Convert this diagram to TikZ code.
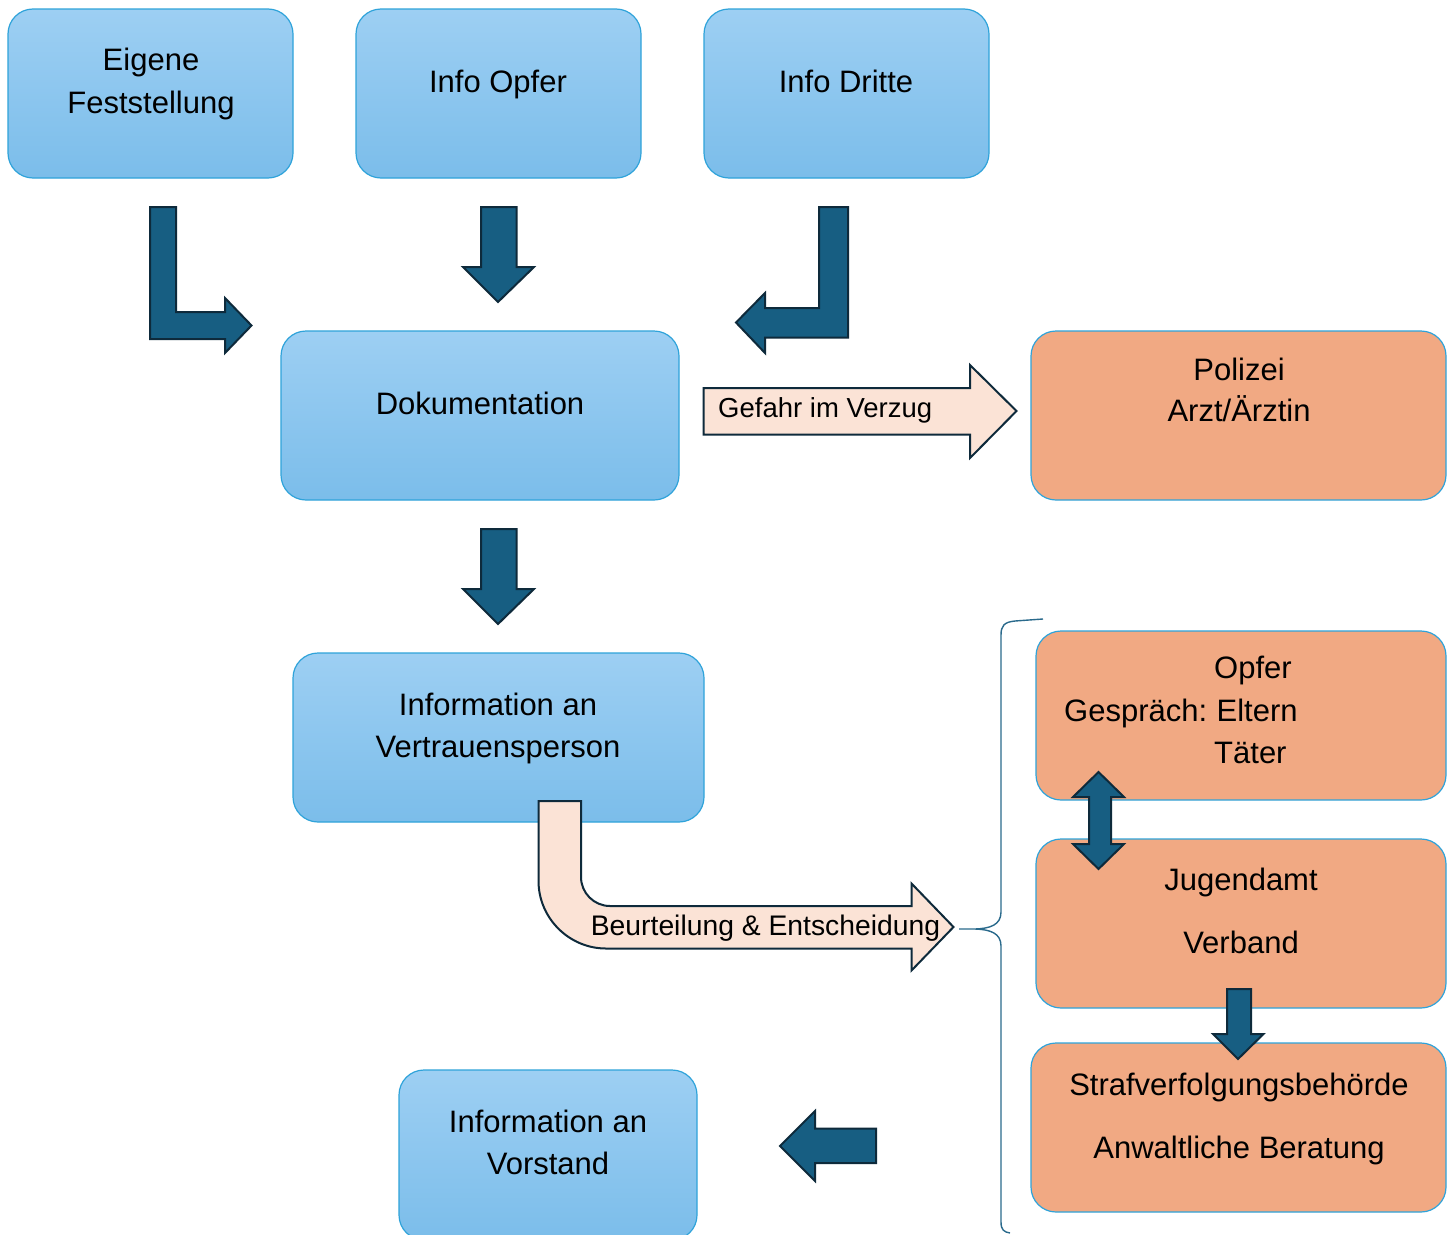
\documentclass[tikz,border=0pt]{standalone}
\usepackage{fontspec}
\setmainfont{Liberation Sans}
\definecolor{blueTop}{HTML}{9DCFF3}
\definecolor{blueBot}{HTML}{7BBDEA}
\definecolor{boxBorder}{HTML}{2FA3DA}
\definecolor{orangeFill}{HTML}{F1A983}
\definecolor{darkFill}{HTML}{175E82}
\definecolor{darkLine}{HTML}{0E2A3B}
\definecolor{peach}{HTML}{FBE3D6}
\definecolor{braceCol}{HTML}{2A6A8C}
\tikzset{
  bluebox/.style={rectangle, rounded corners=25pt, draw=boxBorder, line width=1.2pt,
    top color=blueTop, bottom color=blueBot, inner sep=0pt},
  orangebox/.style={rectangle, rounded corners=25pt, draw=boxBorder, line width=1.2pt,
    fill=orangeFill, inner sep=0pt},
  txt/.style={anchor=base, inner sep=0pt, font=\fontsize{31}{36}\selectfont},
  atxt/.style={anchor=base, inner sep=0pt, font=\fontsize{27.5}{33}\selectfont},
  darrow/.style={fill=darkFill, draw=darkLine, line width=2pt, line join=miter},
  parrow/.style={fill=peach, draw=darkLine, line width=2pt, line join=miter},
}
\begin{document}
\begin{tikzpicture}[x=1pt,y=-1pt]
\clip (0,0) rectangle (1455,1234);
\fill[white] (0,0) rectangle (1455,1234);

% boxes
\node[bluebox, minimum width=285pt, minimum height=169pt] (eig) at (150.5,93.5) {};
\node[bluebox, minimum width=285pt, minimum height=169pt] (iop) at (498.5,93.5) {};
\node[bluebox, minimum width=285pt, minimum height=169pt] (idr) at (846.5,93.5) {};
\node[bluebox, minimum width=398pt, minimum height=169pt] (dok) at (480,415.5) {};
\node[orangebox, minimum width=415pt, minimum height=169pt] (pol) at (1238.5,415.5) {};
\node[bluebox, minimum width=411pt, minimum height=169pt] (ivp) at (498.5,737.5) {};
\node[orangebox, minimum width=410pt, minimum height=169pt] (opf) at (1241,715.5) {};
\node[orangebox, minimum width=410pt, minimum height=169pt] (jug) at (1241,923.5) {};
\node[orangebox, minimum width=415pt, minimum height=169pt] (str) at (1238.5,1127.5) {};
\node[bluebox, minimum width=298pt, minimum height=170pt] (ivs) at (548,1155) {};

% texts
\node[txt] (t1) at (151,70) {Eigene};
\node[txt] (t2) at (151,113) {Feststellung};
\node[txt] (t3) at (498,92) {Info Opfer};
\node[txt] (t4) at (846,92) {Info Dritte};
\node[txt] (t5) at (480,414) {Dokumentation};
\node[txt] (t6) at (1239,380) {Polizei};
\node[txt] (t7) at (1239,421) {Arzt/Ärztin};
\node[txt] (t8) at (498,715) {Information an};
\node[txt] (t9) at (498,757) {Vertrauensperson};
\node[txt, anchor=base west] (t10) at (1214,678) {Opfer};
\node[txt, anchor=base west] (t11) at (1064,721) {Gespräch:\hspace{-2pt} Eltern};
\node[txt, anchor=base west] (t12) at (1214,763) {Täter};
\node[txt] (t13) at (1241,890) {Jugendamt};
\node[txt] (t14) at (1241,953) {Verband};
\node[txt] (t15) at (1239,1095) {Strafverfolgungsbehörde};
\node[txt] (t16) at (1239,1158) {Anwaltliche Beratung};
\node[txt] (t17) at (548,1132) {Information an};
\node[txt] (t18) at (548,1174) {Vorstand};

% dark block arrows
\draw[darrow] (150,207) -- (176,207) -- (176,312) -- (225,312) -- (225,298) -- (251.5,325.5) -- (225,353) -- (225,339) -- (150,339) -- cycle;
\draw[darrow] (481,207) -- (516.5,207) -- (516.5,267) -- (534,267) -- (498,302) -- (463,267) -- (481,267) -- cycle;
\draw[darrow] (848,207) -- (848,337.5) -- (765,337.5) -- (765,353) -- (736,322.5) -- (765,293) -- (765,308) -- (819,308) -- (819,207) -- cycle;
\draw[darrow] (481,529) -- (516.5,529) -- (516.5,589) -- (534,589) -- (498,624) -- (463,589) -- (481,589) -- cycle;
\draw[darrow] (1098.5,772) -- (1124,797) -- (1111,797) -- (1111,844) -- (1124,844) -- (1098.5,869) -- (1073,844) -- (1089,844) -- (1089,797) -- (1073,797) -- cycle;
\draw[darrow] (1227,989) -- (1251,989) -- (1251,1034) -- (1263.5,1034) -- (1238,1059) -- (1213,1034) -- (1227,1034) -- cycle;
\draw[darrow] (876,1128.5) -- (876,1163) -- (815,1163) -- (815,1181) -- (780,1146) -- (815,1111) -- (815,1128.5) -- cycle;

% peach arrows
\draw[parrow] (703.5,388) -- (970,388) -- (970,365) -- (1016.5,411) -- (970,458) -- (970,434.5) -- (703.5,434.5) -- cycle;
\node[atxt, anchor=base west] (gef) at (718,417) {Gefahr im Verzug};

\draw[parrow] (538.5,801) -- (581,801) -- (581,877) .. controls (581,893) and (594,906) .. (610,906)
  -- (911.5,906) -- (911.5,883.5) -- (953.5,927) -- (911.5,970.5) -- (911.5,948.5) -- (606,948.5)
  .. controls (569,948.5) and (538.5,918) .. (538.5,881) -- cycle;
\node[atxt, font=\fontsize{28.3}{33}\selectfont] (beu) at (765.5,935) {Beurteilung \& Entscheidung};

% brace
\draw[braceCol, line width=1.4pt] (1043,619) -- (1015,621) .. controls (1004,622) and (1001,626) .. (1001,635)
  -- (1001,912) .. controls (1001,925) and (990,928.5) .. (975,929) -- (959,929)
  -- (975,929) .. controls (990,929.5) and (1001,933) .. (1001,946)
  -- (1001,1222) .. controls (1001,1230) and (1004,1232) .. (1010,1233);
\end{tikzpicture}
\end{document}
